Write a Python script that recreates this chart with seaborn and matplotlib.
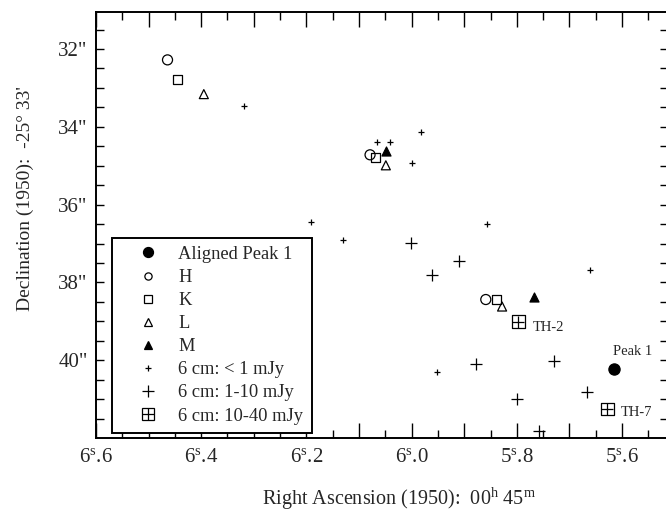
import numpy as np
import pandas as pd
import matplotlib
matplotlib.use("Agg")
import matplotlib.pyplot as plt
import seaborn as sns
from matplotlib.lines import Line2D
from matplotlib.legend_handler import HandlerTuple

# Positions: RA seconds (00h 45m ...), Dec arcsec (-25 33' ...)
peak_ra = [5.615]
peak_dec = [40.23]

h_ra = [6.464, 6.079, 5.859]
h_dec = [32.28, 34.72, 38.44]

k_ra = [6.445, 6.068, 5.838]
k_dec = [32.78, 34.79, 38.45]

l_ra = [6.395, 6.049, 5.828]
l_dec = [33.16, 34.99, 38.62]

m_ra = [6.049, 5.767]
m_dec = [34.63, 38.37]

weak_ra = [6.318, 6.065, 6.042, 5.982, 6.000, 6.191, 6.130, 5.857, 5.661, 5.952]
weak_dec = [33.46, 34.40, 34.39, 34.13, 34.93, 36.44, 36.90, 36.49, 37.68, 40.30]

mid_ra = [6.002, 5.909, 5.961, 5.729, 5.878, 5.800, 5.667, 5.757]
mid_dec = [36.98, 37.46, 37.82, 40.02, 40.11, 41.00, 40.81, 41.81]

strong_ra = [5.797, 5.628]
strong_dec = [39.01, 41.26]
strong_names = ["TH-2", "TH-7"]

legend_labels = ["Aligned Peak 1", "H", "K", "L", "M",
                 "6 cm: < 1 mJy", "6 cm: 1-10 mJy", "6 cm: 10-40 mJy"]

x_major = [6.6, 6.5, 6.4, 6.3, 6.2, 6.1, 6.0, 5.9, 5.8, 5.7, 5.6]
x_labels = [r"$6^{\rm s}$.6", "", r"$6^{\rm s}$.4", "", r"$6^{\rm s}$.2", "",
            r"$6^{\rm s}$.0", "", r"$5^{\rm s}$.8", "", r"$5^{\rm s}$.6"]
y_major = [32, 34, 36, 38, 40]
y_labels = ['32"', '34"', '36"', '38"', '40"']

sns.set_style("ticks")
plt.rcParams["font.family"] = ["Liberation Serif", "DejaVu Serif"]
plt.rcParams["mathtext.fontset"] = "custom"
plt.rcParams["mathtext.rm"] = "Liberation Serif"
plt.rcParams["mathtext.it"] = "Liberation Serif:italic"

fig = plt.figure(figsize=(6.66, 5.12), dpi=100)
ax = fig.add_axes([0.1441, 0.1445, 0.859, 0.832])

lw = 0.9
sns.scatterplot(x=peak_ra, y=peak_dec, marker="o", s=65, color="black",
                edgecolor="black", linewidth=lw, ax=ax)
sns.scatterplot(x=h_ra, y=h_dec, marker="o", s=52, facecolor="none",
                edgecolor="black", linewidth=lw, ax=ax)
sns.scatterplot(x=k_ra, y=k_dec, marker="s", s=42, facecolor="none",
                edgecolor="black", linewidth=lw, ax=ax)
sns.scatterplot(x=l_ra, y=l_dec, marker="^", s=42, facecolor="none",
                edgecolor="black", linewidth=lw, ax=ax)
sns.scatterplot(x=m_ra, y=m_dec, marker="^", s=42, color="black",
                edgecolor="black", linewidth=lw, ax=ax)
sns.scatterplot(x=weak_ra, y=weak_dec, marker="+", s=19, color="black",
                linewidth=lw, ax=ax)
sns.scatterplot(x=mid_ra, y=mid_dec, marker="+", s=75, color="black",
                linewidth=lw, ax=ax)
sns.scatterplot(x=strong_ra, y=strong_dec, marker="s", s=80, facecolor="none",
                edgecolor="black", linewidth=lw, ax=ax)
sns.scatterplot(x=strong_ra, y=strong_dec, marker="+", s=80, color="black",
                linewidth=lw, ax=ax)

ax.annotate("Peak 1", (peak_ra[0], peak_dec[0]), xytext=(13, 13),
            textcoords="offset points", ha="center", va="center", fontsize=10.5)
ax.annotate(strong_names[0], (strong_ra[0], strong_dec[0]), xytext=(10.5, -4.5),
            textcoords="offset points", ha="left", va="center", fontsize=10.5)
ax.annotate(strong_names[1], (strong_ra[1], strong_dec[1]), xytext=(9.5, -2.5),
            textcoords="offset points", ha="left", va="center", fontsize=10.5)

ax.set_xlim(6.6, 5.5125)
ax.set_ylim(42.0, 31.05)

ax.set_xticks(x_major)
ax.set_xticklabels(x_labels)
ax.set_xticks(np.arange(5.55, 6.6, 0.1), minor=True)
ax.set_yticks(y_major)
ax.set_yticklabels(y_labels)
ax.set_yticks([y for y in np.arange(31.5, 42.0, 0.5) if y not in y_major], minor=True)

ax.tick_params(which="both", direction="in", top=True, right=True,
               width=1.0, color="black")
ax.tick_params(axis="x", which="major", length=11, labelsize=15, pad=7)
ax.tick_params(axis="x", which="minor", length=5.5)
ax.tick_params(axis="y", which="both", length=6, labelsize=15, pad=6)
for sp in ax.spines.values():
    sp.set_linewidth(1.4)
    sp.set_color("black")

ax.set_xlabel(r"Right Ascension (1950):  00$^{\rm h}$ 45$^{\rm m}$", fontsize=14.5)
ax.xaxis.set_label_coords(0.53, -0.112)
ax.set_ylabel("Declination (1950):  -25° 33'", fontsize=14)
ax.yaxis.set_label_coords(-0.109, 0.563)

# Legend
def mk(marker, size, fill, lw_=lw):
    return Line2D([], [], linestyle="none", marker=marker, markersize=size,
                  markerfacecolor="black" if fill else "none",
                  markeredgecolor="black", markeredgewidth=lw_, color="black")

handles = [mk("o", 7.2, True), mk("o", 5.2, False), mk("s", 5.3, False),
           mk("^", 5.2, False), mk("^", 6.2, True), mk("+", 4.0, False),
           mk("+", 8.6, False), (mk("s", 8.2, False), mk("+", 8.2, False))]
leg = ax.legend(handles, legend_labels, loc="lower left",
                bbox_to_anchor=(0.028, 0.012), fontsize=13.3, frameon=True,
                fancybox=False, framealpha=1, edgecolor="black",
                borderpad=0.45, handlelength=3.0, handletextpad=0.15,
                labelspacing=0.33, borderaxespad=0,
                handler_map={tuple: HandlerTuple(ndivide=1, pad=0)})
leg.get_frame().set_linewidth(1.4)

fig.savefig("out.png", dpi=100)
